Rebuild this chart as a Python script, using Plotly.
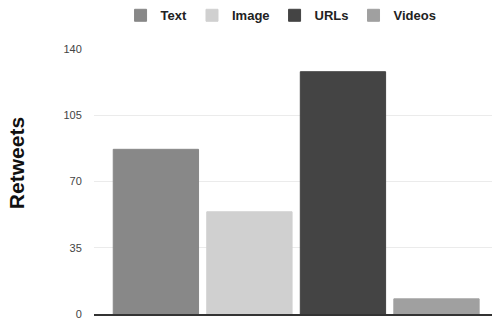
import plotly.graph_objects as go

series = ["Text", "Image", "URLs", "Videos"]
values = [87, 54, 128, 8]
colors = ["#888888", "#d0d0d0", "#444444", "#a0a0a0"]
yticks = [0, 35, 70, 105, 140]

fig = go.Figure()
for name, v, c in zip(series, values, colors):
    fig.add_trace(go.Bar(x=[""], y=[v], name=name, marker=dict(color=c, line=dict(color=c, width=1))))

fig.update_layout(
    width=492, height=322,
    margin=dict(l=94, r=0, t=46, b=8),
    paper_bgcolor="white", plot_bgcolor="white",
    barmode="group", bargap=0.06, bargroupgap=0.088,
    font=dict(family="Liberation Sans, Arial, sans-serif", color="#333"),
    showlegend=True,
    legend=dict(orientation="h", x=0.47, xanchor="center", y=1.127, yanchor="middle",
                font=dict(size=13, color="#222", family="Liberation Sans, Arial, sans-serif", weight="bold"),
                itemwidth=30, traceorder="normal"),
    xaxis=dict(showticklabels=False, showgrid=False, showline=True, linecolor="#333", linewidth=2,
               ticks="", range=[-0.508, 0.492]),
    yaxis=dict(range=[0, 140], tickvals=yticks, showgrid=True, gridcolor="#ebebeb", gridwidth=1,
               zeroline=False, showline=False, ticks="outside", ticklen=9, tickcolor="rgba(0,0,0,0)",
               tickfont=dict(size=11, color="#444")),
    annotations=[dict(text="<b>Retweets</b>", textangle=-90, xref="paper", yref="paper",
                      x=-0.193, y=0.57, xanchor="center", yanchor="middle", showarrow=False,
                      font=dict(size=21, color="#111"))],
)
fig.write_html("out.html")
